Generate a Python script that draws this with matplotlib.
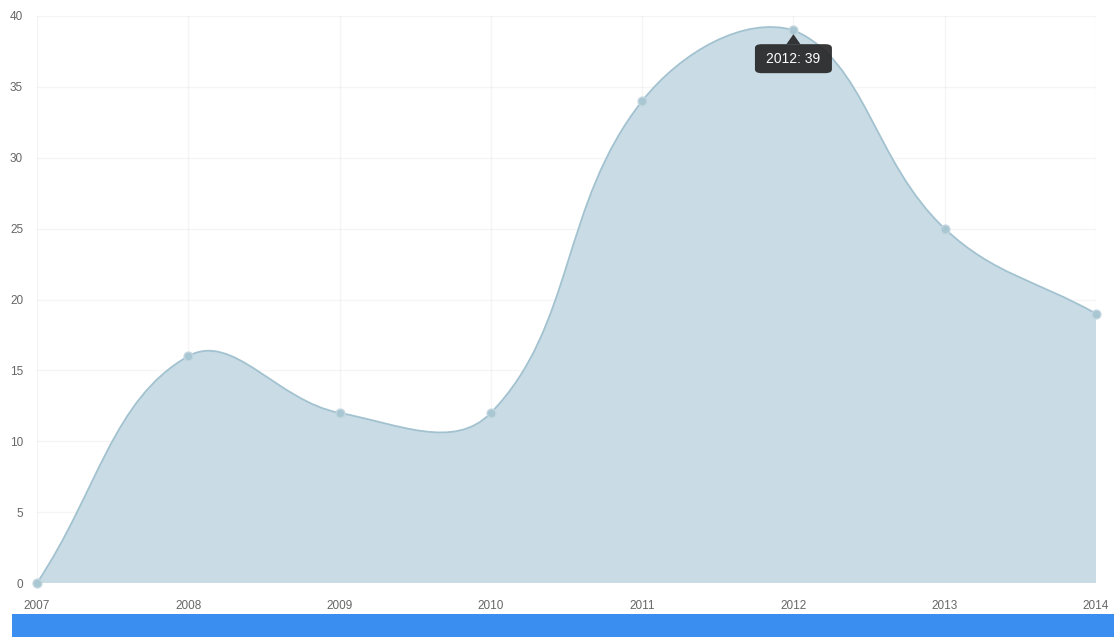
import numpy as np
import matplotlib
matplotlib.use("Agg")
import matplotlib.pyplot as plt
from matplotlib.path import Path
from matplotlib.patches import PathPatch, Rectangle, FancyBboxPatch

# datos
years = [2007, 2008, 2009, 2010, 2011, 2012, 2013, 2014]
values = [0, 16, 12, 12, 34, 39, 25, 19]
y_ticks = [0, 5, 10, 15, 20, 25, 30, 35, 40]
tooltip_year = 2012

W, H = 1114, 637
fig = plt.figure(figsize=(W / 100, H / 100), dpi=100)
x0, x1, ytop, ybot = 37, 1096, 16, 583
ax = fig.add_axes([x0 / W, 1 - ybot / H, (x1 - x0) / W, (ybot - ytop) / H])
ax.set_xlim(years[0], years[-1])
ax.set_ylim(0, 40)

# escala en pixeles para la curva tipo Chart.js (tension 0.4)
sx = (x1 - x0) / (years[-1] - years[0])
sy = (ybot - ytop) / 40.0
tension = 0.4
xs = np.array(years, dtype=float)
ys = np.array(values, dtype=float)
n = len(xs)
inner, outer = [], []
for i in range(n):
    p = np.array([xs[i], ys[i]])
    prev = np.array([xs[i - 1], ys[i - 1]]) if i > 0 else p
    nxt = np.array([xs[i + 1], ys[i + 1]]) if i < n - 1 else p
    d01 = np.hypot((p[0] - prev[0]) * sx, (p[1] - prev[1]) * sy)
    d12 = np.hypot((nxt[0] - p[0]) * sx, (nxt[1] - p[1]) * sy)
    tot = d01 + d12 if d01 + d12 > 0 else 1
    fa = tension * d01 / tot
    fb = tension * d12 / tot
    ci = p - fa * (nxt - prev)
    co = p + fb * (nxt - prev)
    ci[1] = min(max(ci[1], 0), 40)
    co[1] = min(max(co[1], 0), 40)
    inner.append(ci)
    outer.append(co)

verts = [(xs[0], ys[0])]
codes = [Path.MOVETO]
for i in range(1, n):
    verts += [tuple(outer[i - 1]), tuple(inner[i]), (xs[i], ys[i])]
    codes += [Path.CURVE4] * 3

line_path = Path(verts, codes)
fill_path = Path(verts + [(xs[-1], 0), (xs[0], 0), (xs[0], ys[0])],
                 codes + [Path.LINETO, Path.LINETO, Path.CLOSEPOLY])

# rejilla
for y in y_ticks:
    ax.axhline(y, color="#000000", alpha=0.04, lw=1, zorder=0)
for x in years:
    ax.axvline(x, color="#000000", alpha=0.04, lw=1, zorder=0)

ax.add_patch(PathPatch(fill_path, facecolor="#c9dce6", edgecolor="none", zorder=1))
ax.add_patch(PathPatch(line_path, facecolor="none", edgecolor="#a3c2d0", lw=1.3, zorder=2))
ax.scatter(years, values, s=40, color="#a9c6d3", edgecolor="#c2d6df", lw=1,
           zorder=3, clip_on=False)

for s in ax.spines.values():
    s.set_visible(False)
ax.set_xticks(years)
ax.set_yticks(y_ticks)
ax.set_xticklabels([str(y) for y in years])
ax.tick_params(length=0, labelsize=8.5, labelcolor="#666666")
ax.tick_params(axis="x", pad=12)
ax.tick_params(axis="y", pad=10)
for lab in ax.get_xticklabels() + ax.get_yticklabels():
    lab.set_fontfamily("Liberation Sans")

# tooltip
ti = years.index(tooltip_year)
tv = values[ti]
tx, ty = ax.transData.transform((tooltip_year, tv))
bw, bh = 77, 29
bx, by = tx - bw / 2, ty - 14 - bh
inv = fig.transFigure.inverted()
(fx, fy) = inv.transform((bx, by))
(fx2, fy2) = inv.transform((bx + bw, by + bh))
fig.patches.append(FancyBboxPatch((fx, fy), fx2 - fx, fy2 - fy,
                                  boxstyle="round,pad=0,rounding_size=0.006",
                                  transform=fig.transFigure, facecolor="#222222",
                                  edgecolor="none", alpha=0.9, zorder=5))
c1 = inv.transform((tx - 7, by + bh))
c2 = inv.transform((tx + 7, by + bh))
c3 = inv.transform((tx, ty - 4))
fig.patches.append(plt.Polygon([c1, c2, c3], closed=True, transform=fig.transFigure,
                               facecolor="#222222", edgecolor="none", alpha=0.9, zorder=5))
cx, cy = inv.transform((tx, by + bh / 2))
fig.text(cx, cy, f"{tooltip_year}: {tv}", color="white", fontsize=10,
         ha="center", va="center", family="Liberation Sans", zorder=6)

# barra azul inferior
fig.patches.append(Rectangle((12 / W, 0), 1 - 12 / W, 23 / H, transform=fig.transFigure,
                             facecolor="#3a8ef0", edgecolor="none"))

fig.savefig("out.png", dpi=100)
